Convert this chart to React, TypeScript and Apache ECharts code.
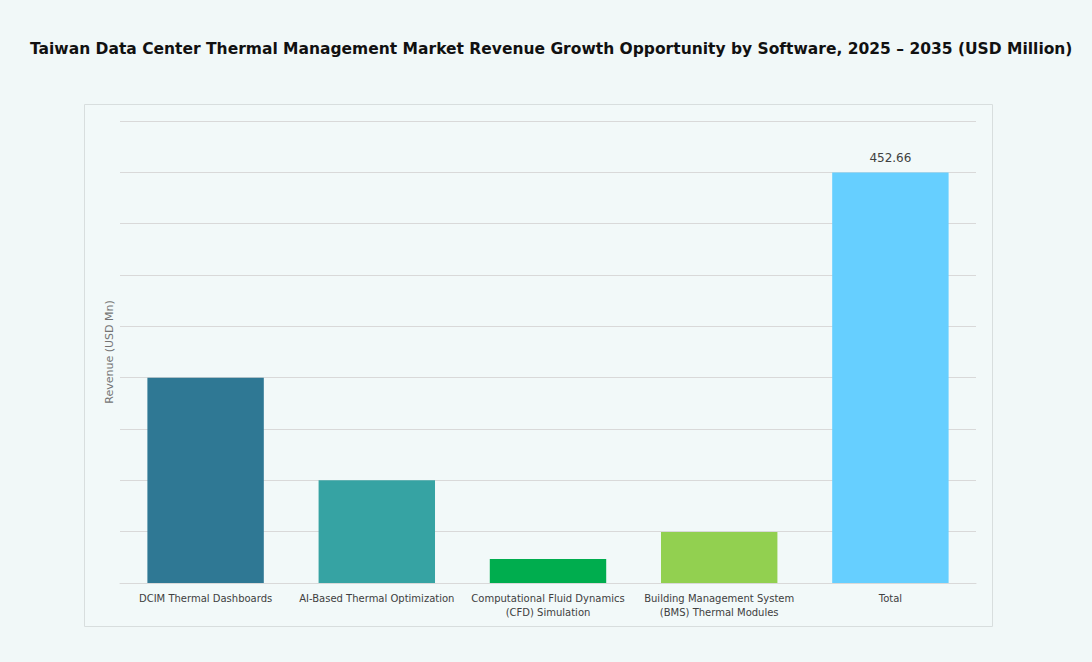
import React, { useEffect, useRef } from "react";
import * as echarts from "echarts";

const categories = [
  "DCIM Thermal Dashboards",
  "AI-Based Thermal Optimization",
  "Computational Fluid Dynamics\n(CFD) Simulation",
  "Building Management System\n(BMS) Thermal Modules",
  "Total",
];
const revenue = [226.33, 113.17, 26.4, 56.2, 452.66];
const barColors = ["#2F7894", "#36A3A3", "#00AD4E", "#92D050", "#66CFFF"];
const axisMax = 509.31;
const axisInterval = 56.59;

const FONT = "DejaVu Sans";

export default function App() {
  const ref = useRef<HTMLDivElement>(null);
  useEffect(() => {
    if (!ref.current) return;
    const chart = echarts.init(ref.current, undefined, { renderer: "svg" });
    chart.setOption({
      animation: false,
      backgroundColor: "#F1F8F8",
      title: {
        text: "Taiwan Data Center Thermal Management Market Revenue Growth Opportunity by Software, 2025 – 2035 (USD Million)",
        left: 25,
        top: 36,
        textStyle: {
          fontFamily: FONT,
          fontWeight: "bold",
          fontSize: 15.5,
          color: "#111111",
        },
      },
      graphic: [
        {
          type: "rect",
          shape: { x: 84.5, y: 104.5, width: 908, height: 522 },
          style: { fill: "#F2F9F9", stroke: "#D8DEDE", lineWidth: 1 },
          z: -10,
        },
      ],
      grid: { left: 120, right: 116, top: 121, bottom: 79 },
      xAxis: {
        type: "category",
        data: categories,
        axisLine: { show: true, lineStyle: { color: "#D9D9D9" } },
        axisTick: { show: false },
        axisLabel: {
          interval: 0,
          color: "#404040",
          fontSize: 10,
          fontFamily: FONT,
          lineHeight: 14,
          margin: 8,
        },
      },
      yAxis: {
        type: "value",
        min: 0,
        max: axisMax,
        interval: axisInterval,
        name: "Revenue (USD Mn)",
        nameLocation: "middle",
        nameGap: 5,
        nameTextStyle: { color: "#737373", fontSize: 11, fontFamily: FONT },
        axisLabel: { show: false },
        axisLine: { show: false },
        axisTick: { show: false },
        splitLine: { lineStyle: { color: "#D9D9D9", width: 1 } },
      },
      series: [
        {
          type: "bar",
          barWidth: "68%",
          data: revenue.map((v, i) => ({
            value: v,
            itemStyle: { color: barColors[i] },
            label: {
              show: i === revenue.length - 1,
              position: "top",
              distance: 8,
              color: "#404040",
              fontSize: 12,
              fontFamily: FONT,
              formatter: (p: any) => Number(p.value).toFixed(2),
            },
          })),
        },
      ],
    });
    return () => chart.dispose();
  }, []);
  return (
    <div style={{ position: "fixed", left: 0, top: 0, width: 1092, height: 662 }}>
      <div ref={ref} style={{ width: 1092, height: 662 }} />
    </div>
  );
}
